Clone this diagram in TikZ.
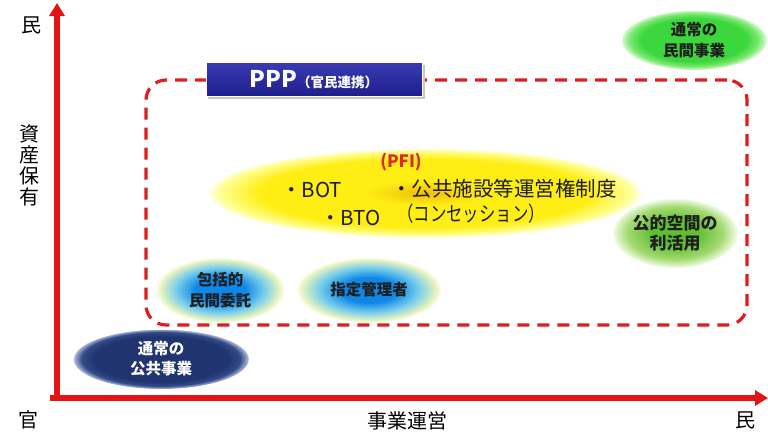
\documentclass[tikz,border=0pt]{standalone}
\usepackage{fontspec}
\setmainfont{Noto Sans CJK JP}
\usetikzlibrary{arrows.meta,shapes.geometric}
\definecolor{axisred}{RGB}{226,20,20}
\definecolor{dashred}{RGB}{222,30,30}
\definecolor{pfired}{RGB}{220,40,40}
\definecolor{pppTop}{RGB}{58,58,180}
\definecolor{pppBot}{RGB}{30,30,140}
\definecolor{yC}{RGB}{240,190,10}
\definecolor{yM}{RGB}{255,238,20}
\definecolor{yE}{RGB}{255,255,150}
\definecolor{gAc}{RGB}{60,215,60}
\definecolor{gAm}{RGB}{120,232,110}
\definecolor{gAe}{RGB}{205,248,200}
\definecolor{gBc}{RGB}{95,190,50}
\definecolor{gBm}{RGB}{165,218,115}
\definecolor{gBe}{RGB}{232,248,215}
\definecolor{bC}{RGB}{15,135,230}
\definecolor{bM}{RGB}{120,205,235}
\definecolor{bE}{RGB}{232,244,190}
\definecolor{nC}{RGB}{32,52,112}
\definecolor{nM}{RGB}{50,75,135}
\definecolor{nE}{RGB}{170,182,212}
\definecolor{lbltext}{RGB}{30,30,30}
\pgfdeclareradialshading{yellowglow}{\pgfpoint{0bp}{0bp}}{color(0bp)=(yC); color(7bp)=(yM); color(19bp)=(yM); color(23.5bp)=(yE); color(25bp)=(white); color(50bp)=(white)}
\pgfdeclareradialshading{greenA}{\pgfpoint{0bp}{0bp}}{color(0bp)=(gAc); color(18bp)=(gAc); color(22bp)=(gAm); color(24.5bp)=(gAe); color(25bp)=(white); color(50bp)=(white)}
\pgfdeclareradialshading{greenB}{\pgfpoint{0bp}{0bp}}{color(0bp)=(gBc); color(9bp)=(gBc); color(19bp)=(gBm); color(24bp)=(gBe); color(25bp)=(white); color(50bp)=(white)}
\pgfdeclareradialshading{blueglow}{\pgfpoint{0bp}{0bp}}{color(0bp)=(bC); color(9.5bp)=(bC); color(17bp)=(bM); color(23bp)=(bE); color(25bp)=(white); color(50bp)=(white)}
\pgfdeclareradialshading{navyglow}{\pgfpoint{0bp}{0bp}}{color(0bp)=(nC); color(19bp)=(nC); color(22.5bp)=(nM); color(24.7bp)=(nE); color(25bp)=(white); color(50bp)=(white)}
\tikzset{
  axis/.style={draw=axisred, line width=6pt, -{Triangle[length=13pt,width=15pt]}},
  axislbl/.style={font=\fontsize{20}{22}\selectfont, inner sep=0pt},
  blob/.style={ellipse, inner sep=0pt, draw=none, align=center, text=lbltext,
    font=\bfseries\fontsize{15.5}{21}\selectfont},
  dashbox/.style={draw=dashred, line width=3.2pt, dash pattern=on 12pt off 8pt,
    rounded corners=20pt, minimum width=601pt, minimum height=245pt, inner sep=0pt},
  pfitxt/.style={inner sep=0pt, text=lbltext, font=\fontsize{20.5}{22}\selectfont},
}
\begin{document}
\begin{tikzpicture}[x=1pt,y=-1pt]
\useasboundingbox[fill=white] (0,0) rectangle (768,432);

% dashed PPP area
\node[dashbox] (area) at (446.5,202.5) {};

% PPP box
\fill[gray!45] (208,65) rectangle (425,99);
\node[minimum width=216pt, minimum height=34pt, inner sep=0pt,
  top color=pppTop, bottom color=pppBot, draw=white, line width=1pt,
  text=white, font=\bfseries] (ppp) at (314,79.5)
  {\fontsize{23}{24}\selectfont PPP\fontsize{13.5}{15}\selectfont（官民連携）};

% yellow PFI ellipse
\node[ellipse, inner sep=0pt, shading=yellowglow, minimum width=436pt, minimum height=90pt] (pfi) at (425,193) {};
\node[inner sep=0pt, text=pfired, font=\bfseries\fontsize{17}{19}\selectfont] (pfilbl) at (401,162) {(PFI)};
\node[pfitxt, anchor=west] (bot) at (281,190) {・BOT};
\node[pfitxt, anchor=west] (bto) at (320,218) {・BTO};
\node[pfitxt, anchor=west] (conc) at (391,189) {・公共施設等運営権制度};
\node[pfitxt, anchor=west] (conc2) at (397,214) {\scalebox{0.8}[1]{（コンセッション）}};

% other ellipses
\node[blob, shading=greenA, minimum width=146pt, minimum height=60pt] (priv) at (694,40) {通常の\\民間事業};
\node[blob, shading=greenB, minimum width=126pt, minimum height=70pt, font=\bfseries\fontsize{17}{20}\selectfont] (space) at (675,233) {公的空間の\\利活用};
\node[blob, shading=blueglow, minimum width=130pt, minimum height=66pt] (hokatsu) at (220,290) {包括的\\民間委託};
\node[blob, shading=blueglow, minimum width=146pt, minimum height=66pt] (shitei) at (369,290) {指定管理者};
\node[blob, shading=navyglow, text=white, minimum width=176pt, minimum height=60pt, font=\bfseries\fontsize{15.5}{20}\selectfont] (public) at (161,359) {通常の\\公共事業};

% axes
\coordinate (yb) at (57,401);
\coordinate (yt) at (57,3);
\coordinate (xl) at (50,398);
\coordinate (xr) at (768,398);
\draw[axis] (yb) -- (yt);
\draw[axis] (xl) -- (xr);

% axis labels
\node[axislbl] (mintop) at (31,25) {民};
\node[axislbl, align=center, font=\fontsize{20}{21}\selectfont] (shisan) at (29,165) {資\\産\\保\\有};
\node[axislbl] (kan) at (28,420) {官};
\node[axislbl] (jigyo) at (407,421) {事業運営};
\node[axislbl] (minr) at (745,420) {民};
\end{tikzpicture}
\end{document}
